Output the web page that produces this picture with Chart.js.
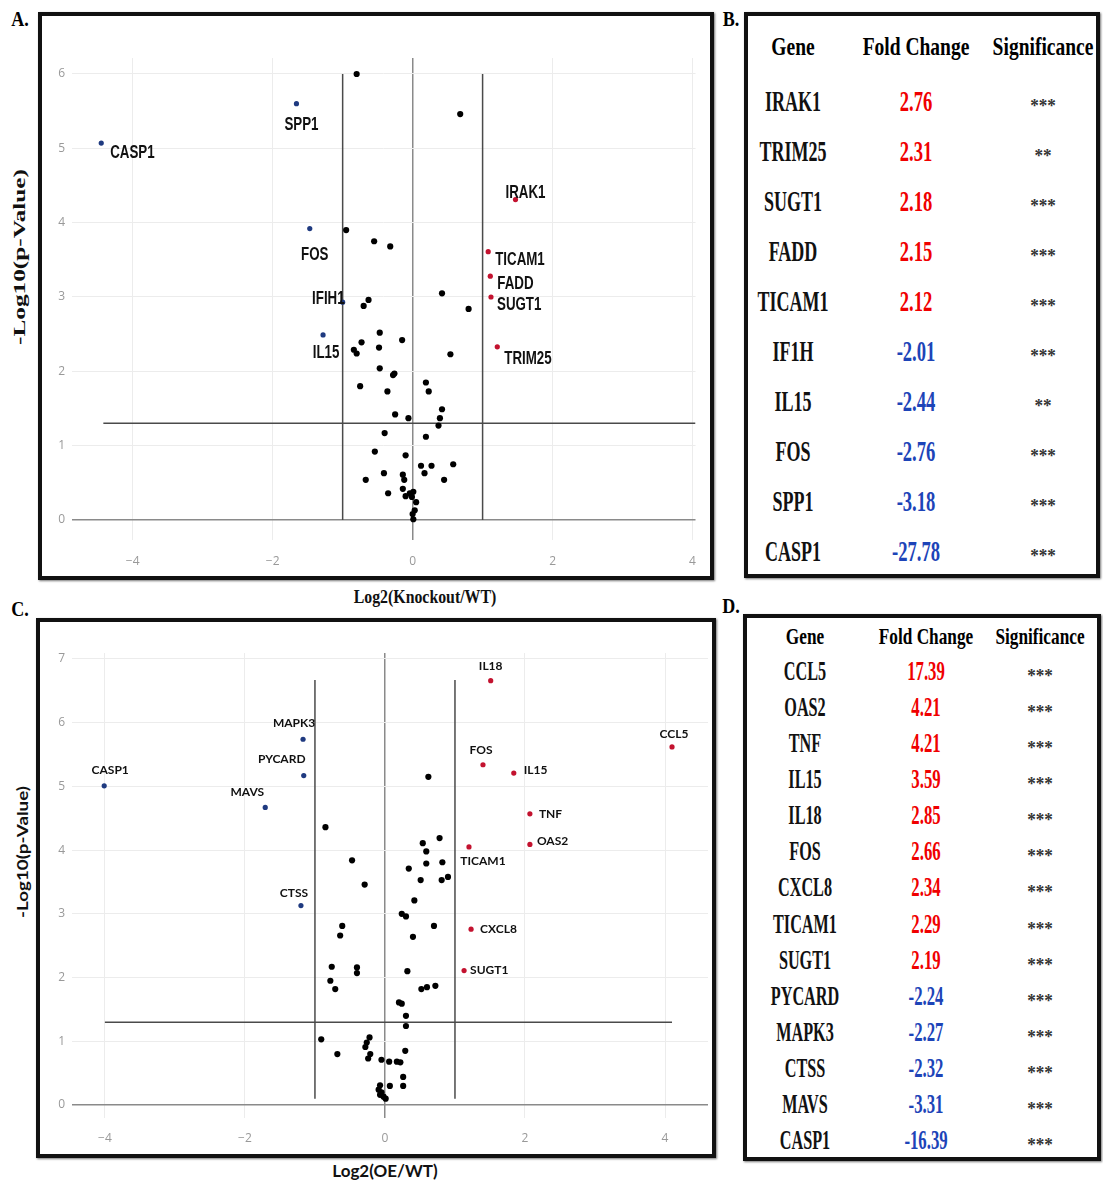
<!DOCTYPE html>
<html>
<head>
<meta charset="utf-8">
<script src="https://cdn.jsdelivr.net/npm/chart.js@4.4.0/dist/chart.umd.min.js"></script>
<style>
body { margin: 0; background: #fff; }
#page { position: relative; width: 1103px; height: 1184px; overflow: hidden; }
.box { position: absolute; box-sizing: border-box; border: 4px solid #111; box-shadow: 1px 1px 2px #777; }
canvas { position: absolute; }
.t { position: absolute; white-space: nowrap; line-height: 1; }
.serif { font-family: "Liberation Serif", "Times New Roman", serif; font-weight: bold; }
.sans { font-family: Lato, "Liberation Sans", sans-serif; font-weight: bold; }
</style>
</head>
<body>
<div id="page">
  <div class="box" style="left:38px;top:12px;width:676px;height:568px"></div>
  <div class="box" style="left:744px;top:12px;width:356px;height:566px"></div>
  <div class="box" style="left:36px;top:618px;width:680px;height:540px"></div>
  <div class="box" style="left:743px;top:614px;width:358px;height:547px"></div>
  <canvas id="chartA" width="668" height="560" style="left:42px;top:16px"></canvas>
  <canvas id="chartC" width="672" height="532" style="left:40px;top:622px"></canvas>
</div>
<script>
// thresholds: |log2 FC| = 1 and p = 0.05
const fcCut = 1;
const pCut = 1.3;

// ---- Panel A: knockout vs WT ----
const koGenes = ['CASP1', 'SPP1', 'FOS', 'IFIH1', 'IL15', 'IRAK1', 'TICAM1', 'FADD', 'SUGT1', 'TRIM25'];
const koGeneLog2 = [-4.45, -1.66, -1.47, -1.0, -1.28, 1.47, 1.08, 1.11, 1.12, 1.21];
const koGeneP = [5.07, 5.60, 3.92, 2.93, 2.49, 4.31, 3.61, 3.28, 3.00, 2.33];
const koOtherLog2 = [-0.80, 0.68, -0.95, -0.55, -0.32, 0.42, -0.63, -0.70, 0.80, -0.47, -0.15,
  -0.73, -0.48, -0.84, -0.80, 0.54, -0.47, -0.28, -0.26, -0.75, -0.36, 0.19, 0.23, 0.42, 0.39,
  0.37, -0.25, -0.06, -0.40, 0.19, -0.54, -0.10, 0.12, 0.27, 0.58, 0.17, -0.41, -0.67, 0.45,
  -0.14, -0.12, -0.35, -0.14, -0.10, -0.04, 0.01, -0.01, 0.05, 0.03, 0.00, 0.01];
const koOtherP = [6.00, 5.46, 3.90, 3.75, 3.68, 3.05, 2.96, 2.88, 2.84, 2.52, 2.42,
  2.39, 2.32, 2.29, 2.24, 2.23, 2.04, 1.95, 1.97, 1.80, 1.73, 1.85, 1.73, 1.49, 1.37,
  1.27, 1.42, 1.37, 1.17, 1.12, 0.92, 0.87, 0.73, 0.73, 0.75, 0.63, 0.63, 0.54, 0.54,
  0.61, 0.54, 0.36, 0.42, 0.32, 0.36, 0.38, 0.31, 0.24, 0.13, 0.08, 0.01];

// ---- Panel C: overexpression vs WT ----
const oeGenes = ['CASP1', 'MAPK3', 'PYCARD', 'MAVS', 'CTSS', 'IL18', 'CCL5', 'FOS', 'IL15', 'TNF', 'OAS2', 'TICAM1', 'CXCL8', 'SUGT1'];
const oeGeneLog2 = [-4.01, -1.17, -1.16, -1.71, -1.20, 1.51, 4.10, 1.40, 1.84, 2.07, 2.07, 1.20, 1.23, 1.13];
const oeGeneP = [5.01, 5.74, 5.17, 4.67, 3.13, 6.66, 5.62, 5.34, 5.21, 4.57, 4.09, 4.05, 2.76, 2.11];
const oeOtherLog2 = [0.62, -0.85, -0.47, -0.29, 0.54, 0.78, 0.59, 0.34, 0.59, 0.82, 0.51, 0.81, 0.90,
  0.42, 0.24, 0.30, -0.61, -0.64, 0.70, 0.40, -0.76, -0.40, -0.40, -0.78, -0.71, 0.32, 0.52, 0.60,
  0.72, 0.20, 0.24, 0.30, 0.30, -0.91, -0.22, -0.26, -0.28, -0.21, -0.24, -0.68, 0.29, -0.05, 0.06,
  0.17, 0.22, 0.26, 0.26, 0.07, -0.07, -0.09, -0.07, -0.02, 0.01, -0.05];
const oeOtherP = [5.15, 4.36, 3.84, 3.46, 4.11, 4.19, 3.98, 3.71, 3.79, 3.81, 3.53, 3.53, 3.58,
  3.21, 3.00, 2.96, 2.81, 2.66, 2.81, 2.64, 2.17, 2.16, 2.07, 1.95, 1.82, 2.10, 1.82, 1.85,
  1.87, 1.61, 1.59, 1.40, 1.24, 1.03, 1.06, 0.98, 0.91, 0.80, 0.73, 0.80, 0.85, 0.71, 0.68,
  0.68, 0.67, 0.44, 0.30, 0.30, 0.31, 0.24, 0.16, 0.13, 0.10, 0.20];

// ---- Tables B and D ----
const tableBGenes = ['IRAK1', 'TRIM25', 'SUGT1', 'FADD', 'TICAM1', 'IF1H', 'IL15', 'FOS', 'SPP1', 'CASP1'];
const tableBFold = [2.76, 2.31, 2.18, 2.15, 2.12, -2.01, -2.44, -2.76, -3.18, -27.78];
const tableBSig = ['***', '**', '***', '***', '***', '***', '**', '***', '***', '***'];
const tableDGenes = ['CCL5', 'OAS2', 'TNF', 'IL15', 'IL18', 'FOS', 'CXCL8', 'TICAM1', 'SUGT1', 'PYCARD', 'MAPK3', 'CTSS', 'MAVS', 'CASP1'];
const tableDFold = [17.39, 4.21, 4.21, 3.59, 2.85, 2.66, 2.34, 2.29, 2.19, -2.24, -2.27, -2.32, -3.31, -16.39];
const tableDSig = ['***', '***', '***', '***', '***', '***', '***', '***', '***', '***', '***', '***', '***', '***'];

// label offsets from the point: dx, dy, alignment
const labelPosA = {
  CASP1: [9, 10, 'left'], SPP1: [5, 21, 'center'], FOS: [5, 26, 'center'], IFIH1: [2, -3, 'right'],
  IL15: [3, 18, 'center'], IRAK1: [10, -7, 'center'], TICAM1: [7, 8, 'left'], FADD: [7, 8, 'left'],
  SUGT1: [6, 8, 'left'], TRIM25: [7, 12, 'left']
};
const labelPosC = {
  CASP1: [6, -16, 'center'], MAPK3: [-9, -16, 'center'], PYCARD: [-22, -16, 'center'], MAVS: [-18, -15, 'center'],
  CTSS: [-7, -12, 'center'], IL18: [0, -15, 'center'], CCL5: [2, -13, 'center'], FOS: [-2, -15, 'center'],
  IL15: [10, -3, 'left'], TNF: [9, 0, 'left'], OAS2: [7, -3, 'left'], TICAM1: [14, 14, 'center'],
  CXCL8: [9, 0, 'left'], SUGT1: [6, 0, 'left']
};

const toPts = (xs, ys) => xs.map((x, i) => ({ x: x, y: ys[i] }));

// gene names next to the coloured points, squeezed horizontally by sx
const labelPlugin = (font, sx, pos) => ({
  id: 'geneLabels',
  afterDatasetsDraw(chart) {
    const ctx = chart.ctx;
    chart.data.datasets.forEach((ds, i) => {
      if (!ds.genes) return;
      chart.getDatasetMeta(i).data.forEach((el, j) => {
        const p = pos[ds.genes[j]];
        ctx.save();
        ctx.font = font;
        ctx.fillStyle = '#111';
        ctx.textBaseline = 'middle';
        ctx.textAlign = p[2];
        ctx.translate(el.x + p[0], el.y + p[1]);
        ctx.scale(sx, 1);
        ctx.fillText(ds.genes[j], 0, 0);
        ctx.restore();
      });
    });
  }
});

const volcano = (id, o) => {
  const down = o.genes.map((g, i) => i).filter(i => o.log2[i] < 0);
  const up = o.genes.map((g, i) => i).filter(i => o.log2[i] > 0);
  const pick = (idx) => ({
    genes: idx.map(i => o.genes[i]),
    data: idx.map(i => ({ x: o.log2[i], y: o.p[i] }))
  });
  const cutLine = (data) => ({
    data: data, showLine: true, borderColor: '#4a4a4a', borderWidth: 1.5,
    pointRadius: 0, order: 5
  });
  const tick = { color: '#999', font: { family: 'Open Sans', size: 12 } };
  const zeroGrid = {
    drawTicks: false,
    color: c => (c.tick && c.tick.value === 0 ? '#8a8a8a' : '#ececec'),
    lineWidth: c => (c.tick && c.tick.value === 0 ? 1.5 : 1)
  };
  new Chart(document.getElementById(id).getContext('2d'), {
    type: 'scatter',
    data: {
      datasets: [
        Object.assign(pick(down), { backgroundColor: o.blue, borderWidth: 0, pointRadius: 2.6, order: 1 }),
        Object.assign(pick(up), { backgroundColor: o.red, borderWidth: 0, pointRadius: 2.6, order: 1 }),
        { data: toPts(o.otherLog2, o.otherP), backgroundColor: '#000', borderWidth: 0, pointRadius: 3.1, order: 2 },
        cutLine([{ x: o.hLine[0], y: pCut }, { x: o.hLine[1], y: pCut }]),
        cutLine([{ x: -fcCut, y: o.vLine[0] }, { x: -fcCut, y: o.vLine[1] }]),
        cutLine([{ x: fcCut, y: o.vLine[0] }, { x: fcCut, y: o.vLine[1] }])
      ]
    },
    options: {
      responsive: false,
      animation: false,
      layout: { padding: { left: 0, right: o.padR, top: o.padT, bottom: 0 } },
      plugins: { legend: { display: false }, tooltip: { enabled: false } },
      scales: {
        x: {
          type: 'linear', min: o.x[0], max: o.x[1],
          afterFit: s => { s.height = o.xAxisH; },
          border: { display: false },
          grid: zeroGrid,
          ticks: Object.assign({ stepSize: 2, includeBounds: false, padding: o.xTickPad,
            callback: v => (v < 0 ? '\u2212' + Math.abs(v) : '' + v) }, tick)
        },
        y: {
          type: 'linear', min: o.y[0], max: o.y[1],
          afterFit: s => { s.width = o.yAxisW; },
          border: { display: false },
          grid: zeroGrid,
          ticks: Object.assign({ stepSize: 1, includeBounds: false, padding: 7 }, tick)
        }
      }
    },
    plugins: [labelPlugin(o.labelFont, o.labelSx, o.labelPos)]
  });
};

volcano('chartA', {
  genes: koGenes, log2: koGeneLog2, p: koGeneP, otherLog2: koOtherLog2, otherP: koOtherP,
  x: [-4.868, 4.043], y: [-0.269, 6.215], padR: 12, padT: 42, xAxisH: 36, yAxisW: 30, xTickPad: 14,
  hLine: [-4.42, 4.043], vLine: [0, 6],
  blue: '#1f3a80', red: '#c3122f',
  labelFont: 'bold 18px "Liberation Sans", sans-serif', labelSx: 0.74, labelPos: labelPosA
});

volcano('chartC', {
  genes: oeGenes, log2: oeGeneLog2, p: oeGeneP, otherLog2: oeOtherLog2, otherP: oeOtherP,
  x: [-4.47, 4.614], y: [-0.204, 7.094], padR: 4, padT: 31, xAxisH: 36, yAxisW: 32, xTickPad: 13,
  hLine: [-4.0, 4.1], vLine: [0.1, 6.67],
  blue: '#1f3a80', red: '#c3122f',
  labelFont: 'bold 12px Lato, "Liberation Sans", sans-serif', labelSx: 1, labelPos: labelPosC
});

// ---- text and tables ----
const page = document.getElementById('page');
const put = (text, x, y, cls, size, sx, color, extra) => {
  const d = document.createElement('div');
  d.className = 't ' + cls;
  d.textContent = text;
  d.style.left = x + 'px';
  d.style.top = y + 'px';
  d.style.fontSize = size + 'px';
  if (color) d.style.color = color;
  d.style.transform = 'translate(-50%,-50%) ' + (extra || '') + ' scaleX(' + sx + ')';
  page.appendChild(d);
};

put('A.', 20, 19, 'serif', 20, 0.9);
put('B.', 731, 19, 'serif', 20, 0.9);
put('C.', 20, 609, 'serif', 20, 0.9);
put('D.', 731, 606, 'serif', 20, 0.9);

put('-Log10(p-Value)', 20, 257, 'serif', 16, 1.58, '#111', 'rotate(-90deg)');
put('Log2(Knockout/WT)', 425, 597, 'serif', 18, 0.88, '#111');
put('-Log10(p-Value)', 22, 852, 'sans', 15, 1.25, '#111', 'rotate(-90deg)');
put('Log2(OE/WT)', 385, 1170, 'sans', 17, 1.0, '#111');

const fcColor = v => (v > 0 ? '#f00000' : '#1d44b8');

const drawTable = (t) => {
  put('Gene', t.cols[0], t.headY, 'serif', t.headSize, 0.75);
  put('Fold Change', t.cols[1], t.headY, 'serif', t.headSize, 0.75);
  put('Significance', t.cols[2], t.headY, 'serif', t.headSize, 0.75);
  t.genes.forEach((g, i) => {
    const y = t.rowY + i * t.step;
    put(g, t.cols[0], y, 'serif', t.rowSize, 0.6, '#111');
    put(t.fold[i].toFixed(2), t.cols[1], y, 'serif', t.rowSize, 0.62, fcColor(t.fold[i]));
    put(t.sig[i], t.cols[2], y + 5, 'serif', 18, 0.95, '#333');
  });
};

drawTable({ genes: tableBGenes, fold: tableBFold, sig: tableBSig, cols: [793, 916, 1043],
  headY: 47, rowY: 101, step: 50, headSize: 26, rowSize: 30 });
drawTable({ genes: tableDGenes, fold: tableDFold, sig: tableDSig, cols: [805, 926, 1040],
  headY: 636, rowY: 671, step: 36.08, headSize: 23, rowSize: 27 });
</script>
</body>
</html>
